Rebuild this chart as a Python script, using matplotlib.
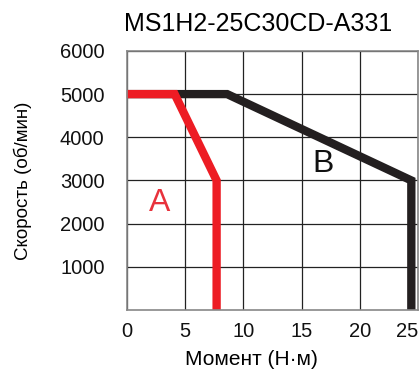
import matplotlib
matplotlib.use("Agg")
import matplotlib.pyplot as plt

plt.rcParams['font.family'] = ['Liberation Sans', 'DejaVu Sans']

title = "MS1H2-25C30CD-A331"
xlabel = "Момент (Н·м)"
ylabel = "Скорость (об/мин)"

a_torque = [0, 4.1, 7.7, 7.7]
a_speed = [5000, 5000, 3000, 0]
b_torque = [0, 8.6, 24.4, 24.4]
b_speed = [5000, 5000, 3000, 0]

xticks = [0, 5, 10, 15, 20, 25]
yticks = [1000, 2000, 3000, 4000, 5000, 6000]

fig = plt.figure(figsize=(4.2, 3.69), dpi=100)
ax = fig.add_axes([0.302, 0.16, 0.694, 0.702])
ax.set_xlim(0, 25)
ax.set_ylim(0, 6000)
ax.set_xticks(xticks)
ax.set_yticks(yticks)
ax.grid(True, color='#222222', linewidth=0.9)
ax.set_axisbelow(True)
for s in ax.spines.values():
    s.set_color('#888888')
    s.set_linewidth(1.2)
ax.tick_params(length=0, labelsize=14.5, colors='#111111')
ax.tick_params(axis='y', pad=16)
ax.tick_params(axis='x', pad=9)
ax.get_xticklabels()[-1].set_horizontalalignment('right')

ax.plot(b_torque, b_speed, color='#231f20', linewidth=6, solid_joinstyle='miter',
        solid_capstyle='butt', clip_on=False)
ax.plot(a_torque, a_speed, color='#ed1c24', linewidth=6, solid_joinstyle='miter',
        solid_capstyle='butt', clip_on=False)

ax.text(2.83, 2480, "A", color='#e8323c', fontsize=23, ha='center', va='center')
ax.text(16.8, 3380, "B", color='#111111', fontsize=23, ha='center', va='center')

ax.set_title(title, fontsize=18, pad=14, x=0.45)
ax.set_xlabel(xlabel, fontsize=15)
ax.xaxis.set_label_coords(0.426, -0.155)
ax.set_ylabel(ylabel, fontsize=13.5)
ax.yaxis.set_label_coords(-0.326, 0.5)

fig.savefig("out.png", dpi=100)
